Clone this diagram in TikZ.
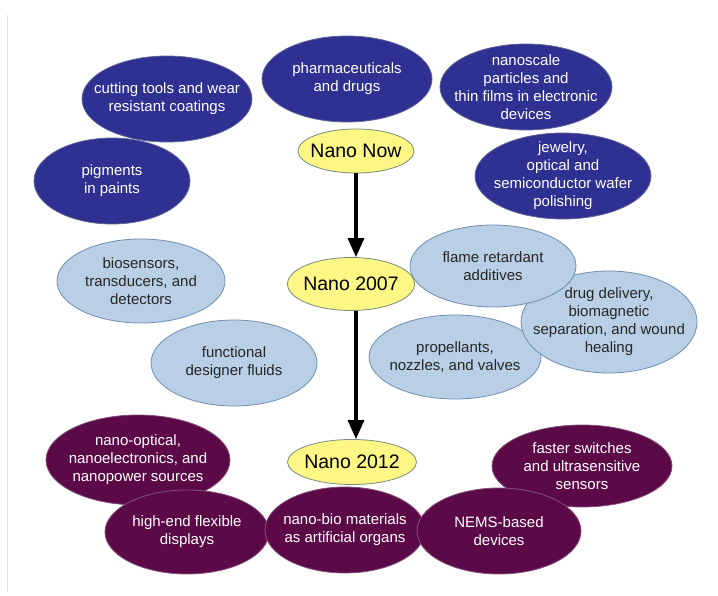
\documentclass[tikz,border=0pt]{standalone}
\usepackage{fontspec}
\setmainfont{Liberation Sans}
\usepackage{tikz}
\usetikzlibrary{shapes.geometric, arrows.meta}
\definecolor{navy}{RGB}{46, 48, 146}
\definecolor{navyline}{RGB}{96, 100, 150}
\definecolor{sky}{RGB}{184, 207, 229}
\definecolor{skyline}{RGB}{112, 142, 178}
\definecolor{plum}{RGB}{92, 9, 72}
\definecolor{plumline}{RGB}{130, 80, 120}
\definecolor{lemon}{RGB}{253, 247, 133}
\definecolor{lemonline}{RGB}{120, 138, 122}

\begin{document}
\begin{tikzpicture}[x=1pt, y=-1pt,
    bub/.style 2 args={ellipse, inner sep=-45pt, minimum width=#1, minimum height=#2,
      align=center, line width=0.8pt, font=\fontsize{15}{18}\selectfont},
    now/.style 2 args={bub={#1}{#2}, fill=navy, draw=navyline, text=white},
    mid/.style 2 args={bub={#1}{#2}, fill=sky, draw=skyline, text=black!85},
    far/.style 2 args={bub={#1}{#2}, fill=plum, draw=plumline, text=white},
    era/.style 2 args={ellipse, inner sep=-45pt, minimum width=#1, minimum height=#2,
      fill=lemon, draw=lemonline, line width=0.8pt, font=\fontsize{19.5}{22}\selectfont},
    step line/.style={line width=3.2pt, -{Triangle[length=19pt, width=16pt]}}]
  \useasboundingbox (0, 0) rectangle (718, 596);
  \draw[black!12, line width=0.8pt] (7, 15) -- (7, 592);

  % nano now
  \node[now={170}{86}] (cutting) at (167, 99) {cutting tools and wear\\resistant coatings};
  \node[now={170}{86}] (pharma) at (347, 79) {pharmaceuticals\\and drugs};
  \node[now={172}{86}] (films) at (526, 87) {nanoscale\\particles and\\thin films in electronic\\devices};
  \node[now={156}{86}] (pigments) at (112, 181) {pigments\\in paints};
  \node[now={176}{86}] (jewelry) at (563, 176) {jewelry,\\optical and\\semiconductor wafer\\polishing};
  \node[era={116}{44}] (nanonow) at (356, 151) {Nano Now};

  % nano 2007
  \node[mid={168}{84}] (biosensors) at (141, 281) {biosensors,\\transducers, and\\detectors};
  \node[mid={166}{86}] (fluids) at (234, 363) {functional\\designer fluids};
  \node[mid={172}{84}] (propellants) at (455, 357) {propellants,\\nozzles, and valves};
  \node[mid={176}{102}] (delivery) at (609, 322) {drug delivery,\\biomagnetic\\separation, and wound\\healing};
  \node[mid={166}{82}] (flame) at (493, 266) {flame retardant\\additives};
  \node[era={127}{53}] (nano2007) at (351, 284) {Nano 2007};

  % nano 2012
  \node[far={184}{90}] (optical) at (138, 460) {nano-optical,\\nanoelectronics, and\\nanopower sources};
  \node[far={180}{82}] (switches) at (582, 466) {faster switches\\and ultrasensitive\\sensors};
  \node[far={164}{84}] (flexible) at (187, 532) {high-end flexible\\displays};
  \node[far={160}{86}] (organs) at (345, 530) {nano-bio materials\\as artificial organs};
  \node[far={164}{86}] (nems) at (499, 531) {NEMS-based\\devices};
  \node[era={129}{45}] (nano2012) at (352, 462) {Nano 2012};

  \draw[step line] (nanonow.south) -- (nanonow.south |- nano2007.north);
  \draw[step line] (nanonow.south |- nano2007.south) -- (nanonow.south |- nano2012.north);
\end{tikzpicture}
\end{document}
